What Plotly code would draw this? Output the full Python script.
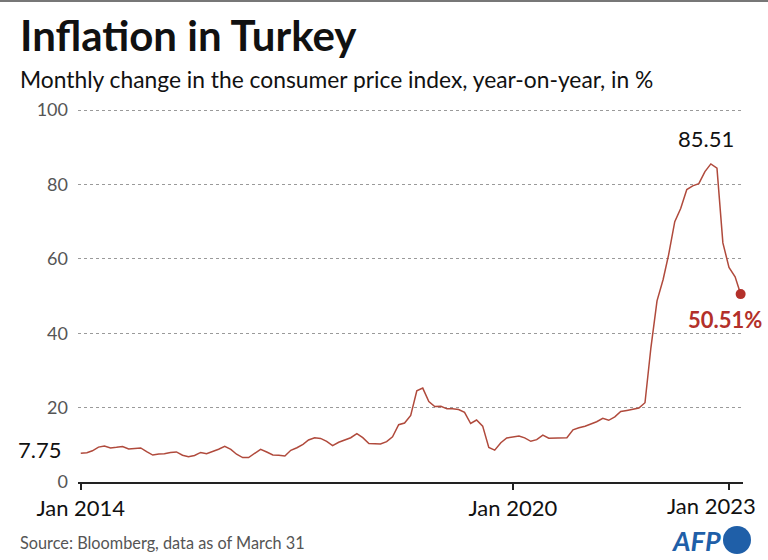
import pandas as pd
import plotly.graph_objects as go

# Monthly year-on-year CPI change, %, Jan 2014 - Mar 2023
inflation = [
    7.75, 7.89, 8.39, 9.38, 9.66, 9.16, 9.32, 9.54, 8.86, 8.96, 9.15, 8.17,   # 2014
    7.24, 7.55, 7.61, 7.91, 8.09, 7.20, 6.81, 7.14, 7.95, 7.58, 8.10, 8.81,   # 2015
    9.58, 8.78, 7.46, 6.57, 6.58, 7.64, 8.79, 8.05, 7.28, 7.16, 7.00, 8.53,   # 2016
    9.22, 10.13, 11.29, 11.87, 11.72, 10.90, 9.79, 10.68, 11.20, 11.90, 12.98, 11.92,  # 2017
    10.35, 10.26, 10.23, 10.85, 12.15, 15.39, 15.85, 17.90, 24.52, 25.24, 21.62, 20.30,  # 2018
    20.35, 19.67, 19.71, 19.50, 18.71, 15.72, 16.65, 15.01, 9.26, 8.55, 10.56, 11.84,  # 2019
    12.15, 12.37, 11.86, 10.94, 11.39, 12.62, 11.76, 11.77, 11.75, 11.89, 14.03, 14.60,  # 2020
    14.97, 15.61, 16.19, 17.14, 16.59, 17.53, 18.95, 19.25, 19.58, 19.89, 21.31, 36.08,  # 2021
    48.69, 54.44, 61.14, 69.97, 73.50, 78.62, 79.60, 80.21, 83.45, 85.51, 84.39, 64.27,  # 2022
    57.68, 55.18, 50.51,  # 2023
]
start_month = "2014-01-01"
months = pd.date_range(start_month, periods=len(inflation), freq="MS")

y_ticks = [0, 20, 40, 60, 80, 100]
x_ticks = ["2014-01-01", "2020-01-01", "2023-01-01"]
x_tick_labels = ["Jan 2014", "Jan 2020", "Jan 2023"]

peak_value = max(inflation)
peak_month = months[inflation.index(peak_value)]
last_value = inflation[-1]
last_month = months[-1]
first_value = inflation[0]

LINE = "#b04a3c"
RED = "#b3302a"
BLUE = "#1f5fa8"
FONT = "Lato"

# plot-area geometry (pixels)
L, R, T, B = 78, 743, 106, 482
W, H = R - L, B - T
Y_TOP = H / 3.72


def px(x):
    return (x - L) / W


def py(y):
    return (B - y) / H


fig = go.Figure()
fig.add_trace(go.Scatter(
    x=months, y=inflation, mode="lines",
    line=dict(color=LINE, width=1.5), hoverinfo="skip", showlegend=False,
))
fig.add_trace(go.Scatter(
    x=[last_month], y=[last_value], mode="markers",
    marker=dict(color=RED, size=10), hoverinfo="skip", showlegend=False,
    cliponaxis=False,
))

fig.update_layout(
    width=768, height=560,
    margin=dict(l=L, r=768 - R, t=T, b=560 - B),
    paper_bgcolor="white", plot_bgcolor="white",
    font=dict(family=FONT, color="#222"),
    xaxis=dict(
        type="date", automargin=False,
        range=["2013-12-18", "2023-03-13"],
        tickvals=x_ticks, ticktext=[x_tick_labels[0], x_tick_labels[1], ""],
        tickfont=dict(size=22, color="#111", family=FONT),
        ticks="outside", ticklen=6, tickcolor="#222", tickwidth=1.5,
        showline=True, linecolor="#222", linewidth=1.5,
        showgrid=False, zeroline=False, fixedrange=True,
    ),
    yaxis=dict(
        range=[0, Y_TOP], automargin=False,
        tickvals=y_ticks,
        tickfont=dict(size=18, color="#555", family=FONT),
        ticks="", ticklabelstandoff=9,
        showgrid=True, gridcolor="#9a9a9a", griddash="dot", gridwidth=1,
        zeroline=False, showline=False, fixedrange=True,
    ),
)

annotations = [
    dict(text="<b>Inflation in Turkey</b>", xref="paper", yref="paper",
         x=px(18), y=py(35), xanchor="left", yanchor="middle",
         showarrow=False, font=dict(size=42, color="#111", family=FONT)),
    dict(text="Monthly change in the consumer price index, year-on-year, in %",
         xref="paper", yref="paper", x=px(18), y=py(79),
         xanchor="left", yanchor="middle",
         showarrow=False, font=dict(size=22.8, color="#111", family=FONT)),
    dict(text="Source: Bloomberg, data as of March 31", xref="paper", yref="paper",
         x=px(18), y=py(542), xanchor="left", yanchor="middle",
         showarrow=False, font=dict(size=16.3, color="#555", family=FONT)),
    dict(text=x_tick_labels[2], xref="paper", yref="paper",
         x=px(758), y=py(505), xanchor="right", yanchor="middle",
         showarrow=False, font=dict(size=22, color="#111", family=FONT)),
    dict(text=f"{first_value:.2f}", xref="paper", yref="y", x=0, y=first_value,
         xanchor="right", yanchor="middle", xshift=-15, yshift=4,
         showarrow=False, font=dict(size=22, color="#111", family=FONT)),
    dict(text=f"{peak_value:.2f}", xref="x", yref="y", x=peak_month, y=peak_value,
         xanchor="center", yanchor="bottom", xshift=-5, yshift=10,
         showarrow=False, font=dict(size=22, color="#111", family=FONT)),
    dict(text=f"<b>{last_value:.2f}%</b>", xref="x", yref="y", x=last_month, y=last_value,
         xanchor="center", yanchor="middle", xshift=-16, yshift=-25,
         showarrow=False, font=dict(size=22, color=RED, family=FONT)),
    dict(text="<b><i>AFP</i></b>", xref="paper", yref="paper", x=px(723), y=py(540),
         xanchor="right", yanchor="middle",
         showarrow=False, font=dict(size=27, color=BLUE, family=FONT)),
]
fig.update_layout(annotations=annotations)

fig.add_shape(type="line", xref="paper", yref="paper", x0=px(0), x1=px(768),
              y0=py(1), y1=py(1), line=dict(color="#777", width=2))
fig.add_shape(type="circle", xref="paper", yref="paper",
              x0=px(723), x1=px(751), y0=py(554), y1=py(526),
              fillcolor=BLUE, line=dict(width=0))

fig.write_html(
    "out.html",
    config={"displayModeBar": False, "staticPlot": True},
    post_script="document.body.style.margin='0';document.body.style.overflow='hidden';",
)
